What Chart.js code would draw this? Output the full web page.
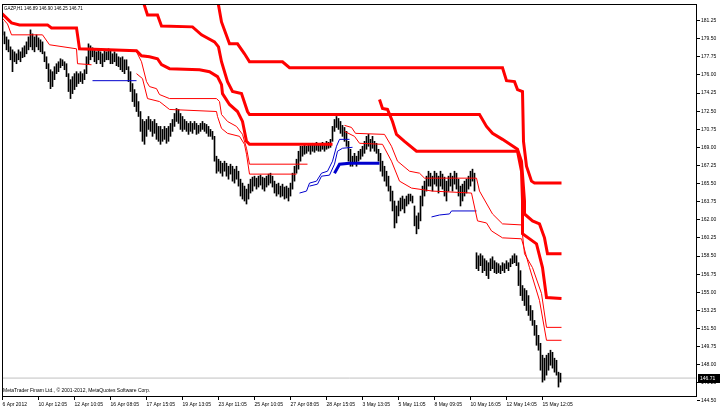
<!DOCTYPE html>
<html>
<head>
<meta charset="utf-8">
<script src="https://cdn.jsdelivr.net/npm/chart.js@4.4.1/dist/chart.umd.min.js"></script>
<style>
  html, body { margin: 0; padding: 0; background: #fff; }
  #chart { display: block; }
</style>
</head>
<body>
<canvas id="chart" width="720" height="411"></canvas>
<script>
// GAZP H1, 6 Apr - 15 May 2012, one slot per bar
const header = 'GAZP,H1 146.89 146.90 146.25 146.71';
const footer = 'MetaTrader Finam Ltd., \u00a9 2001-2012, MetaQuotes Software Corp.';
const lastClose = 146.71;

const xTickLabels = ['6 Apr 2012', '10 Apr 12:05', '12 Apr 10:05', '16 Apr 08:05', '17 Apr 15:05',
  '19 Apr 13:05', '23 Apr 11:05', '25 Apr 10:05', '27 Apr 08:05', '28 Apr 15:05', '3 May 13:05',
  '5 May 11:05', '8 May 09:05', '10 May 16:05', '12 May 14:05', '15 May 12:05'];
const xTickStep = 18;
const yTicks = [144.50, 146.25, 148.00, 149.75, 151.50, 153.25, 155.00, 156.75, 158.50, 160.25, 162.00,
  163.75, 165.50, 167.25, 169.00, 170.75, 172.50, 174.25, 176.00, 177.75, 179.50, 181.25];

const barHigh = [
  181.13, 180.17, 179.68, 179.40, 178.72, 178.43, 178.24, 178.05, 178.43, 178.24,
  178.63, 178.82, 179.20, 179.68, 180.36, 179.97, 179.68, 179.88, 179.59, 179.40,
  179.20, 178.24, 177.76, 177.09, 176.51, 176.32, 176.80, 177.09, 177.28, 177.57,
  177.47, 177.28, 177.09, 176.13, 175.55, 175.84, 176.13, 176.32, 176.13, 176.32,
  176.13, 176.51, 177.76, 179.01, 178.82, 178.63, 178.43, 178.24, 178.43, 178.24,
  178.05, 178.43, 178.24, 178.53, 178.43, 178.05, 178.24, 178.05, 177.76, 177.67,
  177.76, 177.47, 177.47, 176.80, 176.32, 175.17, 174.59, 174.20, 173.43, 172.47,
  171.70, 171.51, 171.70, 171.99, 171.70, 171.51, 171.70, 171.32, 171.03, 171.03,
  170.74, 171.03, 170.84, 171.03, 171.32, 171.70, 172.28, 172.76, 172.67, 172.28,
  171.99, 171.70, 171.51, 171.32, 171.51, 171.32, 171.51, 171.32, 171.13, 171.32,
  171.51, 171.32, 171.22, 171.03, 170.74, 170.55, 170.07, 168.15, 167.86, 167.67,
  167.47, 167.67, 167.47, 167.18, 167.38, 167.18, 166.90, 167.18, 166.70, 165.93,
  165.55, 165.26, 164.97, 165.45, 165.93, 166.13, 166.22, 166.03, 166.22, 166.32,
  166.13, 166.03, 166.22, 166.42, 166.51, 166.22, 165.74, 165.45, 165.55, 165.26,
  165.45, 165.17, 165.26, 165.07, 165.55, 166.51, 167.18, 167.86, 168.63, 169.11,
  169.11, 169.30, 169.11, 169.30, 169.20, 169.40, 169.30, 169.49, 169.30, 169.40,
  169.49, 169.40, 169.59, 169.49, 169.78, 171.03, 171.70, 171.99, 171.80, 171.51,
  171.13, 170.93, 170.55, 169.59, 168.82, 168.15, 168.43, 168.15, 168.63, 168.82,
  169.11, 169.59, 170.07, 170.26, 169.78, 170.07, 169.59, 169.40, 168.82, 168.43,
  167.67, 167.18, 166.70, 166.22, 165.26, 164.78, 163.82, 163.34, 163.82, 164.11,
  164.30, 164.01, 164.30, 164.49, 164.49, 164.30, 163.34, 162.38, 162.67, 164.30,
  165.26, 165.74, 166.22, 166.70, 166.51, 166.22, 166.70, 166.51, 166.22, 166.70,
  166.42, 166.13, 165.74, 166.22, 166.51, 166.22, 166.70, 166.51, 165.93, 165.26,
  165.45, 165.74, 165.93, 166.22, 166.70, 166.90, 166.51, 158.82, 158.53, 158.72,
  158.53, 158.24, 158.05, 157.86, 158.24, 158.43, 158.05, 157.86, 157.76, 157.57,
  157.86, 157.76, 158.05, 157.86, 158.24, 158.53, 158.72, 158.53, 157.86, 157.09,
  155.65, 155.36, 155.17, 154.68, 153.72, 153.24, 152.28, 151.80, 150.84, 150.07,
  148.92, 148.63, 148.92, 149.11, 149.40, 149.20, 148.63, 148.43, 147.28, 147.18
];
const barLow = [
  179.88, 179.01, 178.43, 178.24, 177.47, 176.32, 177.28, 177.09, 177.47, 177.28,
  177.67, 177.76, 178.05, 178.43, 178.72, 178.43, 178.24, 178.72, 178.43, 178.24,
  178.05, 177.28, 176.61, 175.36, 174.68, 174.88, 175.55, 176.13, 176.32, 176.70,
  176.90, 176.51, 175.84, 174.40, 173.72, 174.20, 174.59, 174.88, 175.17, 175.36,
  175.17, 175.55, 176.13, 177.09, 177.47, 177.76, 177.28, 177.09, 177.47, 177.09,
  176.80, 177.28, 177.47, 177.47, 177.09, 177.09, 177.28, 176.90, 176.80, 176.51,
  176.32, 176.13, 176.51, 175.36, 174.40, 173.43, 172.95, 172.47, 171.99, 170.55,
  169.59, 169.30, 170.07, 170.74, 170.55, 170.07, 170.36, 169.78, 169.59, 169.30,
  169.59, 169.78, 169.40, 169.59, 170.07, 170.55, 171.03, 171.51, 171.32, 170.74,
  170.55, 170.74, 170.55, 170.26, 170.55, 170.36, 170.74, 170.26, 170.36, 170.55,
  170.74, 170.55, 170.36, 170.07, 170.07, 169.78, 167.67, 166.51, 166.70, 166.51,
  166.22, 166.70, 166.22, 165.93, 166.42, 165.74, 165.55, 165.93, 165.26, 164.30,
  164.01, 163.82, 163.53, 164.01, 164.59, 164.78, 165.26, 164.97, 165.17, 165.36,
  164.97, 164.78, 165.17, 165.36, 165.55, 165.17, 164.59, 164.30, 164.49, 164.20,
  164.30, 164.01, 164.11, 163.82, 164.30, 164.97, 165.74, 166.51, 166.90, 167.67,
  168.15, 168.34, 168.43, 168.63, 168.34, 168.63, 168.53, 168.72, 168.63, 168.63,
  168.82, 168.63, 168.82, 168.92, 169.01, 169.59, 170.55, 170.93, 170.74, 170.36,
  170.07, 169.59, 169.11, 167.67, 167.18, 167.18, 167.47, 167.18, 167.67, 167.86,
  168.15, 168.43, 168.82, 169.11, 168.63, 168.92, 168.63, 168.43, 167.67, 166.70,
  166.22, 165.74, 165.26, 164.78, 163.82, 162.86, 161.22, 161.70, 162.38, 162.86,
  163.05, 162.67, 163.34, 163.53, 163.82, 163.63, 161.42, 160.65, 161.13, 161.90,
  163.34, 164.30, 164.78, 165.26, 165.26, 164.78, 165.45, 165.26, 164.59, 165.26,
  164.97, 164.30, 163.82, 164.78, 165.26, 164.78, 165.45, 164.97, 164.30, 163.34,
  163.82, 164.30, 164.59, 164.97, 165.26, 165.74, 164.78, 157.28, 157.09, 157.57,
  156.90, 157.09, 156.61, 156.32, 157.09, 157.28, 156.90, 156.80, 156.90, 156.80,
  157.09, 156.90, 157.28, 157.09, 157.47, 157.76, 157.86, 157.57, 155.65, 154.68,
  154.20, 153.72, 153.24, 152.76, 152.28, 151.80, 150.84, 149.88, 149.40, 147.47,
  146.32, 146.51, 146.99, 147.47, 147.95, 147.67, 147.28, 146.99, 145.84, 146.32
];

// indicator levels, [bar slot, price]
const redThick1 = [[-1.5, 182.18], [4.5, 181.03], [8.5, 180.84], [22.5, 180.84], [24.5, 180.55], [37, 180.55],
  [38.5, 178.53], [67, 178.34], [69.5, 177.86], [73.5, 177.76], [77.5, 177.57], [79.5, 177.0], [83.5, 176.61],
  [98.5, 176.51], [103.5, 176.32], [107.5, 175.84], [109.5, 175.07], [110, 174.20], [113.5, 173.15],
  [117.5, 172.47], [120, 171.51], [122, 169.59], [123.5, 169.30], [165, 169.30]];
const redThick2 = [[70, 183.3], [72.5, 181.80], [77.5, 181.80], [79.5, 180.74], [95, 180.65], [99.5, 179.88],
  [106, 179.20], [108, 178.72], [109.5, 177.28], [112.5, 175.36], [115, 174.40], [119.5, 174.20],
  [122.5, 172.47], [123.5, 172.18], [238.5, 172.18], [242, 171.03], [245, 170.36], [250, 169.78],
  [257.5, 168.82], [259.5, 167.67], [261, 163.82], [261, 162.57], [265, 161.90], [268.5, 161.61],
  [271, 160.26], [272.5, 158.72], [279.5, 158.72]];
const redThick3 = [[107.5, 183.3], [109.5, 181.13], [113.5, 179.01], [117.5, 179.01], [121, 178.05],
  [123.5, 177.28], [140, 177.28], [143.5, 176.70], [250, 176.70], [252, 175.45], [256, 175.36],
  [257.5, 174.59], [260, 174.40], [260.5, 169.59], [262, 167.18], [264.5, 165.74], [266, 165.55], [279.5, 165.55]];
const redThick4 = [[188.5, 173.63], [190, 172.76], [192.5, 172.67], [195, 171.51], [197, 170.26], [201, 169.59],
  [207, 168.63], [257.5, 168.63], [259.5, 166.70], [260, 163.82], [260, 160.65], [267, 159.68],
  [270, 157.38], [272, 154.49], [279.5, 154.39]];
const redThin1 = [[-1.5, 181.80], [2.5, 180.93], [4.5, 179.88], [20, 179.88], [23.5, 178.92], [37, 178.53],
  [37.5, 177.09], [44.5, 176.99]];
const redThin2 = [[67, 178.24], [69.5, 177.28], [72, 175.36], [73.5, 174.88], [77, 174.68], [78.5, 174.11],
  [83.5, 173.72], [107, 173.72], [108.5, 173.43], [109.5, 172.18], [112.5, 171.51], [117, 171.03],
  [120, 170.26], [122, 168.92], [123.5, 167.38], [152.5, 167.38]];
const redThin3 = [[67, 176.13], [70, 175.65], [72.5, 173.72], [78.5, 173.43], [83.5, 172.67], [107, 172.47],
  [107.5, 171.99], [109.5, 170.84], [112.5, 170.36], [118.5, 170.07], [121, 169.30], [122, 168.34],
  [123.5, 166.42], [147, 166.42]];
const redThin4 = [[171, 171.13], [174.5, 170.93], [176.5, 170.36], [191, 170.26], [194.5, 169.11],
  [197.5, 167.67], [203.5, 166.70], [208.5, 166.51], [211, 166.03], [237, 166.03], [238.5, 164.78],
  [245, 162.57], [250, 161.61], [259.5, 161.51], [261, 158.72], [265, 157.38], [269.5, 154.88],
  [272, 151.61], [279.5, 151.61]];
const redThin5 = [[171, 170.55], [176, 170.07], [178.5, 169.40], [190, 169.30], [194.5, 167.67],
  [198.5, 165.74], [204.5, 165.07], [215, 164.78], [234.5, 164.59], [237.5, 161.90], [242, 161.70],
  [244.5, 160.93], [250, 160.26], [259.5, 160.17], [263.5, 157.38], [268.5, 154.20], [272, 150.36],
  [279.5, 150.36]];

const blueThin1 = [[45, 175.45], [67, 175.45]];
const blueThin2 = [[148.5, 164.59], [152, 164.78], [153.5, 165.55], [157, 165.74], [159.5, 166.51],
  [162.5, 166.70], [165, 167.67], [167, 169.11], [168.5, 169.78], [173.5, 169.78]];
const blueThin3 = [[153.5, 165.26], [157.5, 165.45], [159.5, 166.22], [163.5, 166.32], [166, 167.38],
  [167.5, 168.63], [170, 168.92], [175, 169.01]];
const blueThick1 = [[166, 166.51], [168.5, 167.38], [173.5, 167.47], [188.5, 167.47]];
const blueThin4 = [[214.5, 162.28], [218.5, 162.47], [223.5, 162.57], [224.5, 162.86], [237, 162.86]];

const RED = '#ff0000';
const BLUE = '#0000cd';
const FONT = 'Liberation Sans';

function level(points, color, width) {
  return {
    type: 'line',
    data: points.map(p => ({ x: p[0], y: p[1] })),
    borderColor: color,
    borderWidth: width,
    pointRadius: 0,
    tension: 0,
    order: 0
  };
}

const bars = barHigh.map((h, i) => ({ x: i, y: [barLow[i], h] }));

const frame = {
  id: 'frame',
  afterDraw(chart) {
    const { ctx, chartArea: a } = chart;
    const y = chart.scales.y;
    ctx.save();
    ctx.strokeStyle = '#000';
    ctx.lineWidth = 1;
    ctx.strokeRect(a.left + 0.5, a.top + 0.5, a.right - a.left - 1, a.bottom - a.top - 1);

    ctx.font = '4.5px "' + FONT + '"';
    ctx.fillStyle = '#000';
    ctx.textBaseline = 'middle';
    ctx.fillText(header, a.left + 2, a.top + 4.5);
    ctx.font = '5px "' + FONT + '"';
    ctx.fillText(footer, a.left + 1, a.bottom - 6);

    // last price tag on the axis
    const py = Math.round(y.getPixelForValue(lastClose));
    ctx.fillRect(a.right + 1, py - 4, 22, 9);
    ctx.fillStyle = '#fff';
    ctx.fillText(lastClose.toFixed(2), a.right + 3, py + 0.5);
    ctx.restore();
  }
};

new Chart(document.getElementById('chart'), {
  type: 'bar',
  data: {
    datasets: [
      level(redThick1, RED, 3),
      level(redThick2, RED, 3),
      level(redThick3, RED, 3),
      level(redThick4, RED, 3),
      level(redThin1, RED, 1),
      level(redThin2, RED, 1),
      level(redThin3, RED, 1),
      level(redThin4, RED, 1),
      level(redThin5, RED, 1),
      level(blueThin1, BLUE, 1),
      level(blueThin2, BLUE, 1),
      level(blueThin3, BLUE, 1),
      level(blueThick1, BLUE, 3),
      level(blueThin4, BLUE, 1),
      {
        type: 'bar',
        data: bars,
        backgroundColor: '#000',
        borderWidth: 0,
        barThickness: 1,
        grouped: false,
        order: 1
      },
      {
        type: 'line',
        data: [{ x: -0.25, y: lastClose }, { x: 347.25, y: lastClose }],
        borderColor: '#c0c0c0',
        borderWidth: 1,
        pointRadius: 0,
        order: 2
      }
    ]
  },
  options: {
    responsive: false,
    animation: false,
    devicePixelRatio: 1,
    layout: { padding: { left: 2, top: 2, right: 0, bottom: 0 } },
    plugins: { legend: { display: false }, tooltip: { enabled: false } },
    scales: {
      x: {
        type: 'linear',
        min: -0.25,
        max: 347.25,
        offset: false,
        border: { display: false },
        grid: { display: true, offset: false, drawOnChartArea: false, tickLength: 3, color: '#000' },
        afterBuildTicks: s => { s.ticks = xTickLabels.map((t, k) => ({ value: k * xTickStep })); },
        afterFit: s => { s.height = 14; },
        ticks: {
          autoSkip: false,
          maxRotation: 0,
          align: 'start',
          padding: 2,
          color: '#000',
          font: { family: FONT, size: 5 },
          callback: (v, k) => xTickLabels[k]
        }
      },
      y: {
        position: 'right',
        min: 144.88,
        max: 182.86,
        border: { display: false },
        grid: { display: true, drawOnChartArea: false, tickLength: 3, color: '#000' },
        afterBuildTicks: s => { s.ticks = yTicks.map(v => ({ value: v })); },
        afterFit: s => { s.width = 23; },
        ticks: {
          autoSkip: false,
          padding: 1,
          color: '#000',
          font: { family: FONT, size: 5 },
          callback: v => v.toFixed(2)
        }
      }
    }
  },
  plugins: [frame]
});
</script>
</body>
</html>
